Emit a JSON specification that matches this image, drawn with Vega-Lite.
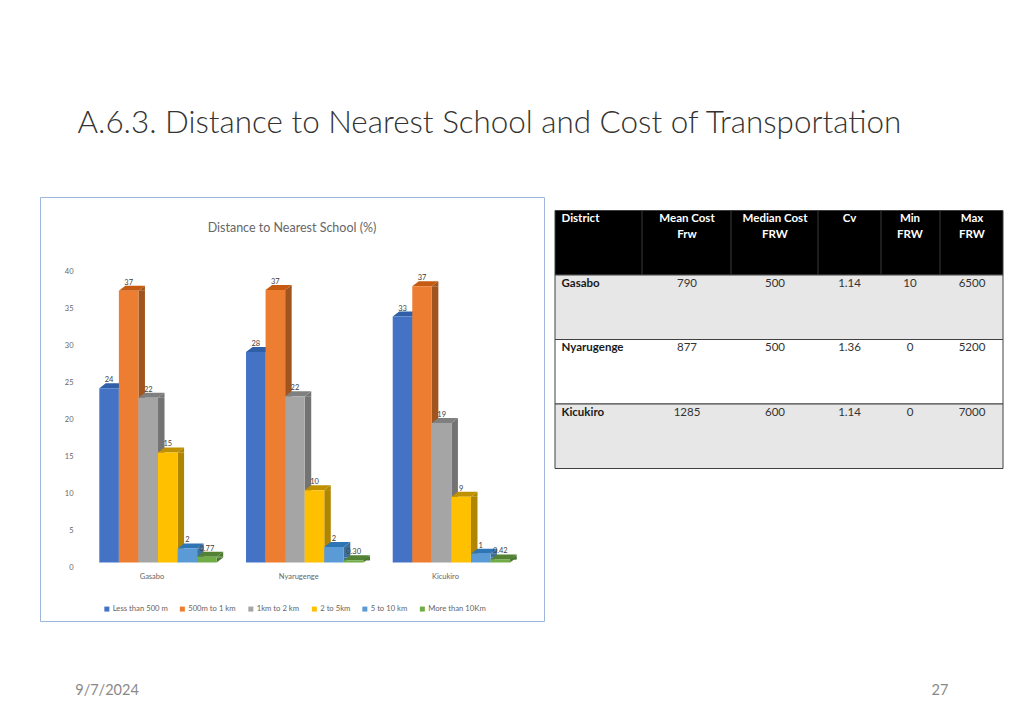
{
"$schema":"https://vega.github.io/schema/vega-lite/v6.json",
"background":"white",
"padding":{"left":39,"top":108,"right":0,"bottom":0},
"config":{"font":"Lato","view":{"stroke":null}},
"title":{"text":"A.6.3. Distance to Nearest School and Cost of Transportation","anchor":"start","frame":"bounds","dx":38,"offset":57,"fontSize":31.4,"fontWeight":300,"color":"#333333","font":"Lato"},
"datasets":{
"bars":[
{"district":"Gasabo","series":"Less than 500 m","value":23.6,"label":"24"},
{"district":"Gasabo","series":"500m to 1 km","value":36.8,"label":"37"},
{"district":"Gasabo","series":"1km to 2 km","value":22.3,"label":"22"},
{"district":"Gasabo","series":"2 to 5km","value":14.9,"label":"15"},
{"district":"Gasabo","series":"5 to 10 km","value":1.9,"label":"2"},
{"district":"Gasabo","series":"More than 10Km","value":0.77,"label":"0.77"},
{"district":"Nyarugenge","series":"Less than 500 m","value":28.5,"label":"28"},
{"district":"Nyarugenge","series":"500m to 1 km","value":36.9,"label":"37"},
{"district":"Nyarugenge","series":"1km to 2 km","value":22.5,"label":"22"},
{"district":"Nyarugenge","series":"2 to 5km","value":9.8,"label":"10"},
{"district":"Nyarugenge","series":"5 to 10 km","value":2.1,"label":"2"},
{"district":"Nyarugenge","series":"More than 10Km","value":0.3,"label":"0.30"},
{"district":"Kicukiro","series":"Less than 500 m","value":33.3,"label":"33"},
{"district":"Kicukiro","series":"500m to 1 km","value":37.4,"label":"37"},
{"district":"Kicukiro","series":"1km to 2 km","value":18.9,"label":"19"},
{"district":"Kicukiro","series":"2 to 5km","value":8.9,"label":"9"},
{"district":"Kicukiro","series":"5 to 10 km","value":1.2,"label":"1"},
{"district":"Kicukiro","series":"More than 10Km","value":0.42,"label":"0.42"}
],
"rows":[{"row":"Header"},{"row":"Gasabo"},{"row":"Nyarugenge"},{"row":"Kicukiro"}],
"edges":[{"row":"Header","edge":0.5},{"row":"Header","edge":1.5},{"row":"Header","edge":2.5},{"row":"Header","edge":3.5},{"row":"Header","edge":4.5}],
"cells":[
{"row":"Header","col":0,"text":"District"},{"row":"Header","col":1,"text":"Mean Cost\nFrw"},{"row":"Header","col":2,"text":"Median Cost\nFRW"},{"row":"Header","col":3,"text":"Cv"},{"row":"Header","col":4,"text":"Min\nFRW"},{"row":"Header","col":5,"text":"Max\nFRW"},
{"row":"Gasabo","col":0,"text":"Gasabo"},{"row":"Gasabo","col":1,"text":"790"},{"row":"Gasabo","col":2,"text":"500"},{"row":"Gasabo","col":3,"text":"1.14"},{"row":"Gasabo","col":4,"text":"10"},{"row":"Gasabo","col":5,"text":"6500"},
{"row":"Nyarugenge","col":0,"text":"Nyarugenge"},{"row":"Nyarugenge","col":1,"text":"877"},{"row":"Nyarugenge","col":2,"text":"500"},{"row":"Nyarugenge","col":3,"text":"1.36"},{"row":"Nyarugenge","col":4,"text":"0"},{"row":"Nyarugenge","col":5,"text":"5200"},
{"row":"Kicukiro","col":0,"text":"Kicukiro"},{"row":"Kicukiro","col":1,"text":"1285"},{"row":"Kicukiro","col":2,"text":"600"},{"row":"Kicukiro","col":3,"text":"1.14"},{"row":"Kicukiro","col":4,"text":"0"},{"row":"Kicukiro","col":5,"text":"7000"}
],
"footer":[{"pos":"date","text":"9/7/2024"},{"pos":"page","text":"27"}]
},
"resolve":{"scale":{"color":"independent"}},
"spacing":0,
"vconcat":[
{"spacing":9,"resolve":{"scale":{"color":"independent"}},"hconcat":[
{"width":504,"height":424,
"view":{"stroke":"#9DB6DA","strokeWidth":1},
"title":{"text":"Distance to Nearest School (%)","anchor":"middle","frame":"group","offset":-37,"fontSize":12.5,"fontWeight":"normal","color":"#666666"},
"data":{"name":"bars"},
"encoding":{
"x":{"field":"district","type":"nominal","sort":["Gasabo","Nyarugenge","Kicukiro"],"scale":{"domain":["Gasabo","Nyarugenge","Kicukiro"],"range":[44.65,484.75],"paddingInner":0.2,"paddingOuter":0.1},
"axis":{"title":null,"labelAngle":0,"ticks":false,"domain":false,"grid":false,"labelFontSize":7.5,"labelColor":"#666666","labelPadding":-49,"labelOffset":-6}},
"xOffset":{"field":"series","type":"nominal","scale":{"type":"band","domain":["Less than 500 m","500m to 1 km","1km to 2 km","2 to 5km","5 to 10 km","More than 10Km"],"paddingInner":0,"paddingOuter":0}},
"y":{"field":"value","type":"quantitative","scale":{"domain":[0,40],"range":[365.5,70.1],"nice":false},
"axis":{"title":null,"values":[0,5,10,15,20,25,30,35,40],"ticks":false,"domain":false,"grid":false,"labelFontSize":7.5,"labelColor":"#666666","labelPadding":-33,"labelOffset":4.5}}
},
"resolve":{"scale":{"color":"independent","xOffset":"independent"}},
"layer":[
{"mark":{"type":"rule","strokeWidth":6.5,"y2Offset":-5},
"encoding":{"xOffset":{"field":"series","type":"nominal","scale":{"type":"band","domain":["Less than 500 m","500m to 1 km","1km to 2 km","2 to 5km","5 to 10 km","More than 10Km"],"range":[13.05,130.41],"paddingInner":0,"paddingOuter":0}},
"y2":{"datum":0},"color":{"field":"series","type":"nominal","legend":null,"scale":{"domain":["Less than 500 m","500m to 1 km","1km to 2 km","2 to 5km","5 to 10 km","More than 10Km"],"range":["#2F5597","#A0551F","#737373","#B08500","#3F6F9E","#4B7A30"]}}}},
{"mark":{"type":"point","filled":true,"opacity":1,"size":4,"shape":"M9.8,0L16.3,-5L9.8,-5Z"},
"encoding":{"y":{"datum":0},"color":{"field":"series","type":"nominal","legend":null,"scale":{"domain":["Less than 500 m","500m to 1 km","1km to 2 km","2 to 5km","5 to 10 km","More than 10Km"],"range":["#2F5597","#A0551F","#737373","#B08500","#3F6F9E","#4B7A30"]}}}},
{"mark":{"type":"point","filled":true,"opacity":1,"size":4,"shape":"M9.8,0L16.3,-5L16.3,0Z"},
"encoding":{"color":{"field":"series","type":"nominal","legend":null,"scale":{"domain":["Less than 500 m","500m to 1 km","1km to 2 km","2 to 5km","5 to 10 km","More than 10Km"],"range":["#2F5597","#A0551F","#737373","#B08500","#3F6F9E","#4B7A30"]}}}},
{"mark":{"type":"point","filled":true,"opacity":1,"size":4,"shape":"M-9.8,0L-3.3,-5L16.3,-5L9.8,0Z"},
"encoding":{"color":{"field":"series","type":"nominal","legend":null,"scale":{"domain":["Less than 500 m","500m to 1 km","1km to 2 km","2 to 5km","5 to 10 km","More than 10Km"],"range":["#2F5FA8","#C55A11","#7F7F7F","#BF9000","#2E75B6","#548235"]}}}},
{"mark":{"type":"bar"},
"encoding":{"color":{"field":"series","type":"nominal","scale":{"domain":["Less than 500 m","500m to 1 km","1km to 2 km","2 to 5km","5 to 10 km","More than 10Km"],"range":["#4472C4","#ED7D31","#A5A5A5","#FFC000","#5B9BD5","#70AD47"]},
"legend":{"title":null,"orient":"none","legendX":63,"legendY":408,"direction":"horizontal","columns":6,"symbolType":"square","symbolSize":25,"symbolStrokeWidth":0,"labelFontSize":7.7,"labelColor":"#666666","columnPadding":10.5,"labelOffset":2,"symbolOffset":0}}}},
{"mark":{"type":"text","dy":-8,"fontSize":7.5,"color":"#404040"},"encoding":{"text":{"field":"label","type":"nominal"}}}
]},
{"width":448,"height":424,
"encoding":{"y":{"field":"row","type":"nominal","scale":{"domain":["Header","Gasabo","Nyarugenge","Kicukiro"],"range":[13.5,271.5],"paddingInner":0,"paddingOuter":0},"axis":null}},
"layer":[
{"data":{"name":"rows"},"mark":{"type":"rect","stroke":"#404040","strokeWidth":1},
"encoding":{"color":{"field":"row","type":"nominal","legend":null,"scale":{"domain":["Header","Gasabo","Nyarugenge","Kicukiro"],"range":["#000000","#E7E7E7","#FFFFFF","#E7E7E7"]}}}},
{"data":{"name":"edges"},"mark":{"type":"tick","orient":"vertical","color":"#3A3A3A","thickness":1,"size":64.5,"opacity":1},
"encoding":{"x":{"field":"edge","type":"quantitative","scale":{"domain":[0,0.5,1,1.5,2,2.5,3,3.5,4,4.5,5],"range":[6.5,87,132,176,220,263,294.5,326,355,385,417]},"axis":null}}},
{"data":{"name":"cells"},"transform":[{"filter":"datum.row==='Header' && datum.col===0"}],"mark":{"type":"text","align":"left","baseline":"top","dy":2.5,"fontSize":11.5,"fontWeight":"bold","color":"#FFFFFF"},
"encoding":{"y":{"field":"row","type":"nominal","bandPosition":0},"x":{"field":"col","type":"quantitative","axis":null},"text":{"field":"text","type":"nominal"}}},
{"data":{"name":"cells"},"transform":[{"filter":"datum.row==='Header' && datum.col>0"}],"mark":{"type":"text","align":"center","baseline":"top","dy":2.5,"fontSize":11.5,"fontWeight":"bold","color":"#FFFFFF","lineBreak":"\n","lineHeight":15.5},
"encoding":{"y":{"field":"row","type":"nominal","bandPosition":0},"x":{"field":"col","type":"quantitative","axis":null},"text":{"field":"text","type":"nominal"}}},
{"data":{"name":"cells"},"transform":[{"filter":"datum.row!=='Header' && datum.col===0"}],"mark":{"type":"text","align":"left","baseline":"top","dy":2.5,"fontSize":11.5,"fontWeight":"bold","color":"#1A1A1A"},
"encoding":{"y":{"field":"row","type":"nominal","bandPosition":0},"x":{"field":"col","type":"quantitative","axis":null},"text":{"field":"text","type":"nominal"}}},
{"data":{"name":"cells"},"transform":[{"filter":"datum.row!=='Header' && datum.col>0"}],"mark":{"type":"text","align":"center","baseline":"top","dy":2.5,"fontSize":11.5,"color":"#333333"},
"encoding":{"y":{"field":"row","type":"nominal","bandPosition":0},"x":{"field":"col","type":"quantitative","axis":null},"text":{"field":"text","type":"nominal"}}}
]}
]},
{"width":944,"height":102,
"data":{"name":"footer"},
"mark":{"type":"text","dy":18,"fontSize":14.5,"color":"#898989"},
"encoding":{"x":{"field":"pos","type":"nominal","scale":{"type":"point","padding":0,"domain":["date","page"],"range":[67,900]},"axis":null},"text":{"field":"text","type":"nominal"}}}
]
}
